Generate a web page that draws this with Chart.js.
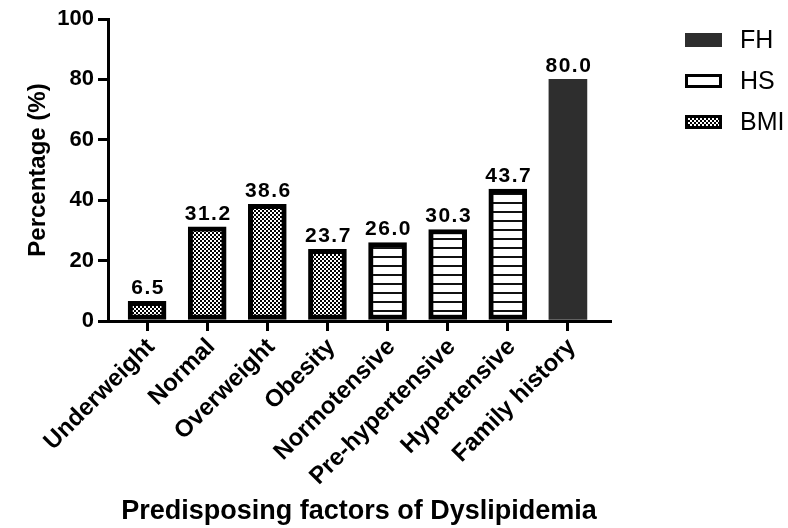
<!DOCTYPE html>
<html>
<head>
<meta charset="utf-8">
<script src="https://cdn.jsdelivr.net/npm/chart.js@4"></script>
<style>
  html, body { margin: 0; padding: 0; background: #fff; }
  #wrap { width: 788px; height: 528px; }
</style>
</head>
<body>
<div id="wrap"><canvas id="c" width="788" height="528"></canvas></div>
<script>
// ---- data ----
const categories = ['Underweight', 'Normal', 'Overweight', 'Obesity', 'Normotensive', 'Pre-hypertensive', 'Hypertensive', 'Family history'];
const fhValues  = [null, null, null, null, null, null, null, 80.0];
const hsValues  = [null, null, null, null, 26.0, 30.3, 43.7, null];
const bmiValues = [6.5, 31.2, 38.6, 23.7, null, null, null, null];
const seriesNames = ['FH', 'HS', 'BMI'];
const yTicks = [0, 20, 40, 60, 80, 100];
const yTitle = 'Percentage (%)';
const xTitle = 'Predisposing factors of Dyslipidemia';

const FONT = "'Liberation Sans', Arial, Helvetica, sans-serif";
const canvas = document.getElementById('c');
const ctx = canvas.getContext('2d');

function checkerPattern() {
  const c = document.createElement('canvas');
  c.width = 4; c.height = 4;
  const g = c.getContext('2d');
  g.fillStyle = '#fff'; g.fillRect(0, 0, 4, 4);
  g.fillStyle = '#000'; g.fillRect(0, 0, 2, 2); g.fillRect(2, 2, 2, 2);
  return ctx.createPattern(c, 'repeat');
}
function stripePattern() {
  const c = document.createElement('canvas');
  c.width = 9; c.height = 9;
  const g = c.getContext('2d');
  g.fillStyle = '#fff'; g.fillRect(0, 0, 9, 9);
  g.fillStyle = '#111'; g.fillRect(0, 4, 9, 2);
  return ctx.createPattern(c, 'repeat');
}

function toPoints(arr) {
  const out = [];
  arr.forEach((v, i) => { if (v !== null) out.push({ x: i, y: v }); });
  return out;
}

const datasets = [
  { label: seriesNames[0], data: toPoints(fhValues), backgroundColor: '#2e2e2e', borderColor: '#2a2a2a', borderWidth: 0 },
  { label: seriesNames[1], data: toPoints(hsValues), backgroundColor: stripePattern(), borderColor: '#000', borderWidth: 5 },
  { label: seriesNames[2], data: toPoints(bmiValues), backgroundColor: checkerPattern(), borderColor: '#000', borderWidth: 5 }
];
datasets.forEach(d => { d.grouped = false; d.barThickness = 38; d.borderSkipped = false; });

const valueLabels = {
  id: 'valueLabels',
  afterDatasetsDraw(chart) {
    const c = chart.ctx;
    c.save();
    c.font = 'bold 21px ' + FONT;
    c.fillStyle = '#000';
    c.textAlign = 'center';
    c.textBaseline = 'alphabetic';
    try { c.letterSpacing = '1.5px'; } catch (e) {}
    chart.data.datasets.forEach((ds, i) => {
      const meta = chart.getDatasetMeta(i);
      meta.data.forEach((el, j) => {
        c.fillText(ds.data[j].y.toFixed(1), el.x + 1, el.y - 7);
      });
    });
    c.restore();
  }
};

const customLegend = {
  id: 'customLegend',
  afterDraw(chart) {
    const c = chart.ctx;
    c.save();
    const rows = [40, 81, 122];
    chart.data.datasets.forEach((ds, i) => {
      const cy = rows[i];
      const x = 685, w = 37, h = 14, y = cy - 7;
      if (ds.borderWidth > 0) {
        const bw = 3;
        c.fillStyle = ds.borderColor;
        c.fillRect(x, y, w, h);
        c.fillStyle = i === 1 ? '#fff' : ds.backgroundColor;
        c.fillRect(x + bw, y + bw, w - 2 * bw, h - 2 * bw);
      } else {
        c.fillStyle = ds.backgroundColor;
        c.fillRect(x, y, w, h);
      }
      c.fillStyle = '#000';
      c.font = '25px ' + FONT;
      c.textAlign = 'left';
      c.textBaseline = 'middle';
      c.fillText(ds.label, 740, cy + 1);
    });
    c.restore();
  }
};

new Chart(canvas, {
  type: 'bar',
  data: { datasets },
  plugins: [valueLabels, customLegend],
  options: {
    responsive: false,
    animation: false,
    devicePixelRatio: 1,
    layout: { padding: { left: 0, right: 178, top: 19, bottom: 0 } },
    plugins: { legend: { display: false }, tooltip: { enabled: false } },
    scales: {
      x: {
        type: 'linear',
        min: -0.65,
        max: 7.7,
        offset: false,
        grid: { display: true, offset: false, drawOnChartArea: false, drawTicks: true, tickLength: 10, lineWidth: 3, color: '#000' },
        border: { display: true, width: 3, color: '#000' },
        ticks: {
          stepSize: 1,
          includeBounds: false,
          autoSkip: false,
          minRotation: 45,
          maxRotation: 45,
          padding: 2,
          labelOffset: 4,
          color: '#000',
          font: { family: FONT, size: 24, weight: 'bold' },
          callback: (v) => (Number.isInteger(v) && categories[v] !== undefined) ? categories[v] : ''
        },
        title: { display: true, text: xTitle, color: '#000', font: { family: FONT, size: 27, weight: 'bold' }, padding: { top: 0, bottom: 0 } },
        afterFit: (s) => { s.height = 207; }
      },
      y: {
        min: 0,
        max: 100,
        afterBuildTicks: (s) => { s.ticks = yTicks.map(v => ({ value: v })); },
        grid: { display: true, drawOnChartArea: false, drawTicks: true, tickLength: 10, lineWidth: 3, color: '#000' },
        border: { display: true, width: 3, color: '#000' },
        ticks: { padding: 4, color: '#000', font: { family: FONT, size: 22, weight: 'bold' } },
        title: { display: true, text: yTitle, color: '#000', font: { family: FONT, size: 24, weight: 'bold' }, padding: { top: 24, bottom: 0 } },
        afterFit: (s) => { s.width = 108; }
      }
    }
  }
});
</script>
</body>
</html>
